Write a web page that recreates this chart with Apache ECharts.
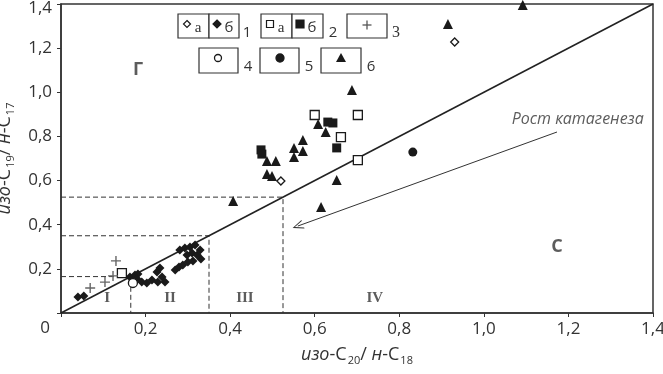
<!DOCTYPE html>
<html><head><meta charset="utf-8">
<script src="https://cdn.jsdelivr.net/npm/echarts@6/dist/echarts.min.js"></script>
<style>html,body{margin:0;padding:0;background:#fff}#c{width:663px;height:374px}</style>
</head><body><div id="c"></div>
<script>
// ---- data (изо-C20/н-C18, изо-C19/н-C17) ----
const type1a = [[0.520,0.598],[0.931,1.228]];
const type1b = [[0.040,0.072],[0.054,0.077],[0.163,0.163],[0.175,0.172],[0.182,0.177],[0.180,0.154],
  [0.191,0.140],[0.203,0.136],[0.215,0.150],[0.227,0.186],[0.234,0.204],[0.239,0.163],[0.246,0.140],
  [0.229,0.140],[0.270,0.195],[0.279,0.208],[0.288,0.217],[0.300,0.231],[0.312,0.236],[0.331,0.245],
  [0.281,0.285],[0.293,0.295],[0.305,0.299],[0.317,0.308],[0.310,0.272],[0.322,0.263],[0.298,0.263],[0.329,0.285]];
const type2a = [[0.144,0.181],[0.600,0.897],[0.702,0.897],[0.662,0.797],[0.702,0.693]];
const type2b = [[0.631,0.865],[0.643,0.861],[0.652,0.748],[0.473,0.739],[0.475,0.720]];
const type3 = [[0.130,0.236],[0.069,0.113],[0.104,0.140],[0.123,0.168]];
const type4 = [[0.170,0.136]];
const type5 = [[0.832,0.729]];
const type6 = [[1.092,1.396],[0.915,1.309],[0.688,1.010],[0.608,0.856],[0.626,0.820],[0.572,0.784],
  [0.551,0.748],[0.572,0.734],[0.551,0.707],[0.487,0.689],[0.508,0.689],[0.487,0.630],[0.499,0.621],
  [0.652,0.603],[0.407,0.507],[0.615,0.480]];
const thresholds = [0.165, 0.35, 0.525];
const zoneNames = ['I','II','III','IV'];
const axisMax = 1.4;
const axisStep = 0.2;

const INK = '#1a1a1a';
const tickFmt = v => (Math.abs(v) < 1e-9 ? '' : v.toFixed(1).replace('.', ','));
const yTickFmt = v => (Math.abs(v - axisMax) < 1e-9 ? '{t|' + tickFmt(v) + '}' : tickFmt(v));

const dashed = thresholds.map(t => ({
  type: 'line', data: [[0, t], [t, t], [t, 0]], symbol: 'none', silent: true,
  lineStyle: { color: '#333', width: 1, type: [5, 3] }, z: 1
}));

function sc(name, data, symbol, size, filled, extra) {
  return Object.assign({
    name, type: 'scatter', data, symbol, symbolSize: size, z: 5,
    itemStyle: filled ? { color: INK, opacity: 1 } : { color: '#fff', borderColor: INK, borderWidth: 1.3, opacity: 1 }
  }, extra || {});
}

const zonePts = [[0.109,0.068],[0.258,0.068],[0.435,0.068],[0.742,0.068]];
const annot = zoneNames.map((n, i) => ({
  value: zonePts[i], label: { show: true, formatter: n, position: 'inside',
    fontFamily: 'Liberation Serif', fontWeight: 'bold', fontSize: 15, color: '#333' }
}));
annot.push({ value: [0.182, 1.10], label: { show: true, formatter: 'Г', position: 'inside',
  fontFamily: 'Open Sans', fontWeight: 'bold', fontSize: 18, color: '#333' } });
annot.push({ value: [1.173, 0.30], label: { show: true, formatter: 'С', position: 'inside',
  fontFamily: 'Open Sans', fontWeight: 'bold', fontSize: 18, color: '#333' } });
annot.push({ value: [1.222, 0.879], label: { show: true, formatter: 'Рост катагенеза', position: 'inside',
  fontFamily: 'Open Sans', fontStyle: 'italic', fontSize: 16, color: '#333' } });

// legend drawn as graphic boxes
const g = [];
const box = (x, y, w, h) => g.push({ type: 'rect', shape: { x, y, width: w, height: h },
  style: { fill: '#fff', stroke: '#333', lineWidth: 1.2 }, z: 10 });
const txt = (x, y, t, font, size) => g.push({ type: 'text', x, y, z: 11,
  style: { text: t, fontFamily: font, fontSize: size, fill: '#333', textAlign: 'center', textVerticalAlign: 'middle' } });
const dia = (cx, cy, r, filled) => g.push({ type: 'polygon', z: 11,
  shape: { points: [[cx, cy - r], [cx + r, cy], [cx, cy + r], [cx - r, cy]] },
  style: { fill: filled ? INK : '#fff', stroke: INK, lineWidth: 1.2 } });
const sq = (cx, cy, r, filled) => g.push({ type: 'rect', z: 11, shape: { x: cx - r, y: cy - r, width: 2 * r, height: 2 * r },
  style: { fill: filled ? INK : '#fff', stroke: INK, lineWidth: 1.2 } });
const circ = (cx, cy, r, filled) => g.push({ type: 'circle', z: 11, shape: { cx, cy, r },
  style: { fill: filled ? INK : '#fff', stroke: INK, lineWidth: 1.3 } });
const tri = (cx, cy, r) => g.push({ type: 'polygon', z: 11,
  shape: { points: [[cx, cy - r], [cx + r, cy + r * 0.8], [cx - r, cy + r * 0.8]] }, style: { fill: INK } });
const plus = (cx, cy, r) => g.push({ type: 'group', z: 11, children: [
  { type: 'line', z: 11, shape: { x1: cx - r, y1: cy, x2: cx + r, y2: cy }, style: { stroke: '#555', lineWidth: 1.3 } },
  { type: 'line', z: 11, shape: { x1: cx, y1: cy - r, x2: cx, y2: cy + r }, style: { stroke: '#555', lineWidth: 1.3 } }] });
// row 1
box(178, 14, 31, 24); box(209, 14, 30, 24);
dia(187, 24, 3.5, false); txt(198, 28, 'а', 'Liberation Serif', 15);
dia(217, 24, 4, true); txt(229, 28, 'б', 'Open Sans', 15);
txt(247, 33, '1', 'Open Sans', 15);
box(261, 14, 31, 24); box(292, 14, 31, 24);
sq(270, 24, 3.5, false); txt(281, 28, 'а', 'Liberation Serif', 15);
sq(300, 24, 4, true); txt(312, 28, 'б', 'Open Sans', 15);
txt(333, 33, '2', 'Open Sans', 15);
box(347, 14, 40, 24);
plus(367, 25, 4.5);
txt(396, 33, '3', 'Liberation Serif', 16);
// row 2
box(199, 48, 39, 25); circ(218, 58, 3.5, false); txt(248, 67, '4', 'Open Sans', 15);
box(260, 48, 39, 25); circ(280, 58, 4, true); txt(309, 67, '5', 'Open Sans', 15);
box(321, 48, 40, 25); tri(341, 58, 5); txt(371, 67, '6', 'Open Sans', 15);
// shared origin label
g.push({ type: 'text', x: 45, y: 328, z: 11, style: { text: '0', fontFamily: 'Open Sans', fontSize: 17, fill: '#333',
  textAlign: 'center', textVerticalAlign: 'middle' } });

const nameStyle = {
  fontFamily: 'Open Sans', fontSize: 18, color: '#333',
  rich: {
    i: { fontFamily: 'Open Sans', fontStyle: 'italic', fontSize: 18, color: '#333', lineHeight: 24, verticalAlign: 'middle' },
    n: { fontFamily: 'Open Sans', fontSize: 18, color: '#333', lineHeight: 24, verticalAlign: 'middle' },
    s: { fontFamily: 'Open Sans', fontSize: 11, color: '#333', lineHeight: 24, verticalAlign: 'bottom', padding: [0, 0, 1, 1] }
  }
};
const labelStyle = { fontFamily: 'Open Sans', fontSize: 17, color: '#333' };

const option = {
  backgroundColor: '#fff',
  animation: false,
  grid: { left: 61, right: 10, top: 4, bottom: 61, containLabel: false, outerBoundsMode: 'none',
    show: true, borderColor: '#333', borderWidth: 1.5 },
  xAxis: {
    type: 'value', min: 0, max: axisMax, interval: axisStep,
    name: '{i|изо}{n|-C}{s|20}{n|/ }{i|н}{n|-C}{s|18}', nameLocation: 'middle', nameGap: 30, nameTextStyle: nameStyle,
    axisLine: { show: true, onZero: false, lineStyle: { color: '#333', width: 1.5 } },
    axisTick: { show: true, inside: false, length: 4, lineStyle: { color: '#333' } },
    axisLabel: Object.assign({ formatter: tickFmt, margin: 8 }, labelStyle),
    splitLine: { show: false }
  },
  yAxis: {
    type: 'value', min: 0, max: axisMax, interval: axisStep,
    name: '{i|изо}{n|-C}{s|19}{n|/ }{i|н}{n|-C}{s|17}', nameLocation: 'middle', nameGap: 40, nameRotate: 90, nameTextStyle: nameStyle,
    axisLine: { show: true, onZero: false, lineStyle: { color: '#333', width: 1.5 } },
    axisTick: { show: true, inside: false, length: 4, lineStyle: { color: '#333' } },
    axisLabel: Object.assign({ formatter: yTickFmt, margin: 9,
      rich: { t: Object.assign({ padding: [8, 0, 0, 0] }, labelStyle) } }, labelStyle),
    splitLine: { show: false }
  },
  graphic: g,
  series: [
    { type: 'line', data: [[0, 0], [axisMax, axisMax]], symbol: 'none', silent: true, z: 2,
      lineStyle: { color: '#222', width: 1.6 },
      markLine: { silent: true, symbol: ['none', 'path://M5,0L10,11L8.8,11L5,2.4L1.2,11L0,11Z'], symbolSize: [9, 11],
        label: { show: false },
        lineStyle: { color: '#333', width: 1, type: 'solid' },
        data: [[{ coord: [1.173, 0.82] }, { coord: [0.56, 0.394] }]] } },
    ...dashed,
    sc('1б', type1b, 'diamond', 9, true),
    sc('1а', type1a, 'diamond', 8, false),
    sc('2а', type2a, 'rect', 9, false),
    sc('2б', type2b, 'rect', 9, true),
    sc('3', type3, 'path://M4.3,0h1.4v10h-1.4zM0,4.3h10v1.4h-10z', 10, true, { itemStyle: { color: '#666', opacity: 1 } }),
    sc('4', type4, 'circle', 9, false),
    sc('5', type5, 'circle', 9, true),
    sc('6', type6, 'triangle', 10, true),
    { type: 'scatter', data: annot, symbolSize: 0, silent: true, z: 6 }
  ]
};
const chart = echarts.init(document.getElementById('c'), null, { renderer: 'canvas' });
chart.setOption(option);
</script></body></html>
